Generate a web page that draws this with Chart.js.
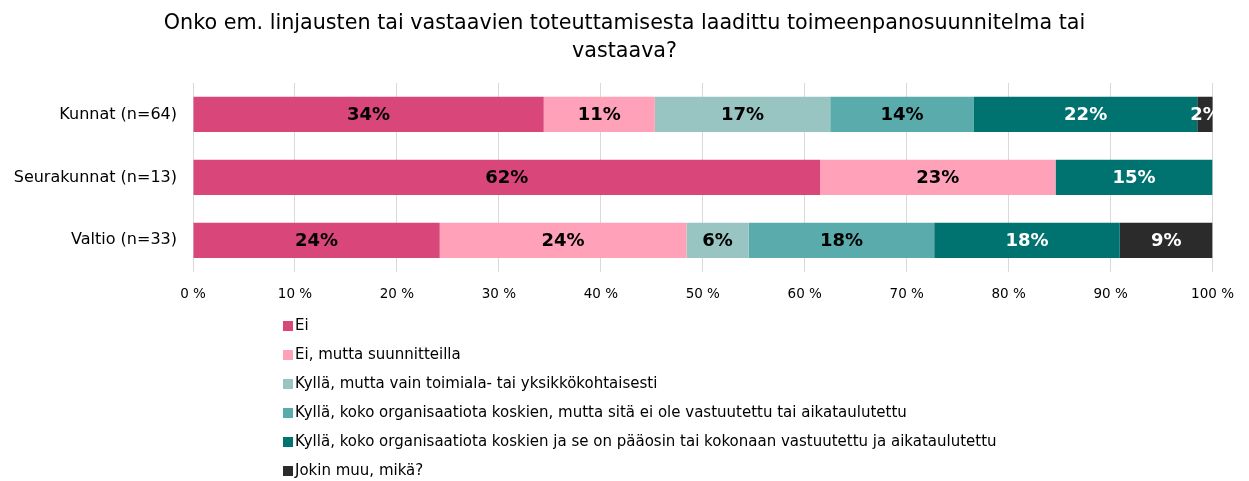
<!DOCTYPE html>
<html>
<head>
<meta charset="utf-8">
<script src="https://cdn.jsdelivr.net/npm/chart.js@4"></script>
<style>
  html, body { margin: 0; padding: 0; background: #fff; overflow: hidden; }
  canvas { display: block; }
</style>
</head>
<body>
<canvas id="chart" width="1249" height="481"></canvas>
<script>
// categories and series (percent of respondents)
const groups = ['Kunnat (n=64)', 'Seurakunnat (n=13)', 'Valtio (n=33)'];
const seriesNames = [
    'Ei',
    'Ei, mutta suunnitteilla',
    'Kyllä, mutta vain toimiala- tai yksikkökohtaisesti',
    'Kyllä, koko organisaatiota koskien, mutta sitä ei ole vastuutettu tai aikataulutettu',
    'Kyllä, koko organisaatiota koskien ja se on pääosin tai kokonaan vastuutettu ja aikataulutettu',
    'Jokin muu, mikä?'
];
const ei = [34.4, 61.5, 24.2];
const eiMutta = [10.9, 23.1, 24.2];
const kyllaVain = [17.2, 0, 6.1];
const kyllaEiVastuutettu = [14.1, 0, 18.2];
const kyllaVastuutettu = [21.9, 15.4, 18.2];
const jokinMuu = [1.6, 0, 9.1];
const xTicks = ['0 %', '10 %', '20 %', '30 %', '40 %', '50 %', '60 %', '70 %', '80 %', '90 %', '100 %'];

const colors = ['#d9477a', '#ffa1b9', '#98c4c2', '#5aacac', '#007370', '#2b2b2b'];
const labelColors = ['#000', '#000', '#000', '#000', '#fff', '#fff'];
const allValues = [ei, eiMutta, kyllaVain, kyllaEiVastuutettu, kyllaVastuutettu, jokinMuu];

const FONT = '"DejaVu Sans", Verdana, sans-serif';

// percentage labels inside the bars
const barLabels = {
    id: 'barLabels',
    afterDatasetsDraw(chart) {
        const ctx = chart.ctx;
        ctx.save();
        ctx.font = 'bold 18px ' + FONT;
        ctx.textAlign = 'center';
        ctx.textBaseline = 'middle';
        chart.data.datasets.forEach((ds, i) => {
            chart.getDatasetMeta(i).data.forEach((bar, j) => {
                const v = ds.data[j];
                if (!v) return;
                ctx.fillStyle = labelColors[i];
                ctx.fillText(Math.round(v) + '%', (bar.x + bar.base) / 2, bar.y + 1);
            });
        });
        ctx.restore();
    }
};

// vertical legend under the axis
const listLegend = {
    id: 'listLegend',
    afterDraw(chart) {
        const ctx = chart.ctx;
        ctx.save();
        ctx.font = '15px ' + FONT;
        ctx.textBaseline = 'middle';
        chart.data.datasets.forEach((ds, i) => {
            const y = 326 + i * 29;
            ctx.fillStyle = ds.backgroundColor;
            ctx.fillRect(283, y - 5, 10, 10);
            ctx.fillStyle = '#000';
            ctx.fillText(ds.label, 295, y);
        });
        ctx.restore();
    }
};

new Chart(document.getElementById('chart'), {
    type: 'bar',
    data: {
        labels: groups,
        datasets: allValues.map((vals, i) => ({
            label: seriesNames[i],
            data: vals,
            backgroundColor: colors[i],
            borderWidth: 0,
            barPercentage: 0.56,
            categoryPercentage: 1
        }))
    },
    options: {
        indexAxis: 'y',
        responsive: false,
        animation: false,
        layout: { padding: { left: 0, right: 0, top: 0, bottom: 163 } },
        plugins: {
            legend: { display: false },
            tooltip: { enabled: false },
            title: {
                display: true,
                text: ['Onko em. linjausten tai vastaavien toteuttamisesta laadittu toimeenpanosuunnitelma tai', 'vastaava?'],
                font: { family: FONT, size: 20.7, weight: 'normal', lineHeight: 1.35 },
                color: '#000',
                padding: { top: 10, bottom: 17 }
            }
        },
        scales: {
            x: {
                stacked: true,
                min: 0,
                max: 100,
                ticks: {
                    stepSize: 10,
                    color: '#000',
                    font: { family: FONT, size: 13.5 },
                    padding: 15,
                    callback: (v, i) => xTicks[i]
                },
                grid: { color: '#d9d9d9', drawTicks: false },
                border: { display: false }
            },
            y: {
                stacked: true,
                ticks: {
                    color: '#000',
                    font: { family: FONT, size: 16 },
                    padding: 8
                },
                grid: { display: false },
                border: { display: false },
                afterFit: (scale) => { scale.width = 193; }
            },
            // empty right-hand axis, only keeps room beside the 100 % line
            yRight: {
                type: 'category',
                position: 'right',
                ticks: { display: false },
                grid: { display: false },
                border: { display: false },
                afterFit: (scale) => { scale.width = 25; }
            }
        }
    },
    plugins: [barLabels, listLegend]
});
</script>
</body>
</html>
